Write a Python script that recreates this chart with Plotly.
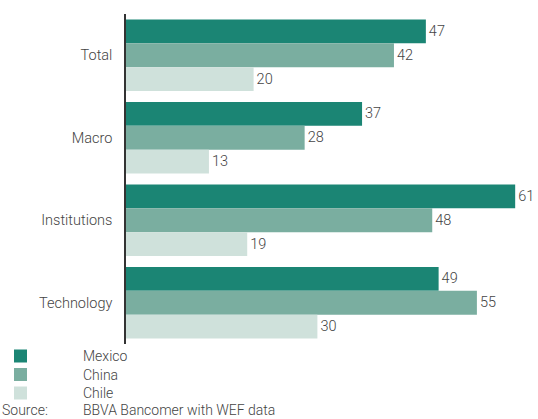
import plotly.graph_objects as go

categories = ["Total", "Macro", "Institutions", "Technology"]
mexico = [47, 37, 61, 49]
china = [42, 28, 48, 55]
chile = [20, 13, 19, 30]

series_names = ["Mexico", "China", "Chile"]
series_values = [mexico, china, chile]
series_colors = ["#1b8574", "#7aaea0", "#cfe1db"]

source_label = "Source:"
source_text = "BBVA Bancomer with WEF data"

FONT = "Roboto, Liberation Sans, Arial, sans-serif"
TEXT_COLOR = "#444444"
FS = 14.5
FS_SMALL = 14
WT = 300

fig = go.Figure()
for name, vals, col in zip(series_names, series_values, series_colors):
    fig.add_trace(go.Bar(
        y=categories, x=vals, name=name, orientation="h",
        marker=dict(color=col, line=dict(width=0)),
        text=[str(v) for v in vals], textposition="outside",
        textfont=dict(family=FONT, size=FS, color=TEXT_COLOR, weight=WT),
        cliponaxis=False, showlegend=False,
    ))

W, H = 538, 419
ml, mr, mt, mb = 126, 0, 14, 75

# Legend: coloured squares with series names underneath the plot
legend_rows_y = [356, 374.5, 393]
shapes = []
annotations = []
pw, ph = W - ml - mr, H - mt - mb
for name, col, yc in zip(series_names, series_colors, legend_rows_y):
    shapes.append(dict(type="rect", xref="paper", yref="paper",
                       x0=(14 - ml) / pw, x1=(27 - ml) / pw,
                       y0=(H - mb - (yc + 6.5)) / ph,
                       y1=(H - mb - (yc - 6.5)) / ph,
                       fillcolor=col, line=dict(width=0)))
    annotations.append(dict(text=name, xref="paper", yref="paper",
                            x=(81 - ml) / pw, y=(H - mb - yc) / ph,
                            xanchor="left", yanchor="middle", showarrow=False,
                            font=dict(family=FONT, size=FS_SMALL, color=TEXT_COLOR, weight=WT)))

for txt, xpix in [(source_label, 0), (source_text, 81)]:
    annotations.append(dict(text=txt, xref="paper", yref="paper",
                            x=(xpix - ml) / pw, y=(H - mb - 410.5) / ph,
                            xanchor="left", yanchor="middle", showarrow=False,
                            font=dict(family=FONT, size=FS_SMALL, color=TEXT_COLOR, weight=WT)))

fig.update_layout(
    width=W, height=H,
    margin=dict(l=ml, r=mr, t=mt, b=mb, pad=0),
    paper_bgcolor="white", plot_bgcolor="white",
    barmode="group", bargap=0.133, bargroupgap=0,
    uniformtext=dict(minsize=14, mode="show"),
    xaxis=dict(range=[0, pw / 6.38], visible=False,
               showgrid=False, zeroline=False),
    yaxis=dict(autorange="reversed", showline=True, linecolor="#333333",
               linewidth=1.5, showgrid=False, zeroline=False, ticks="",
               ticklabelstandoff=9,
               tickfont=dict(family=FONT, size=FS, color=TEXT_COLOR, weight=WT)),
    shapes=shapes, annotations=annotations,
)

fig.write_html("out.html")
